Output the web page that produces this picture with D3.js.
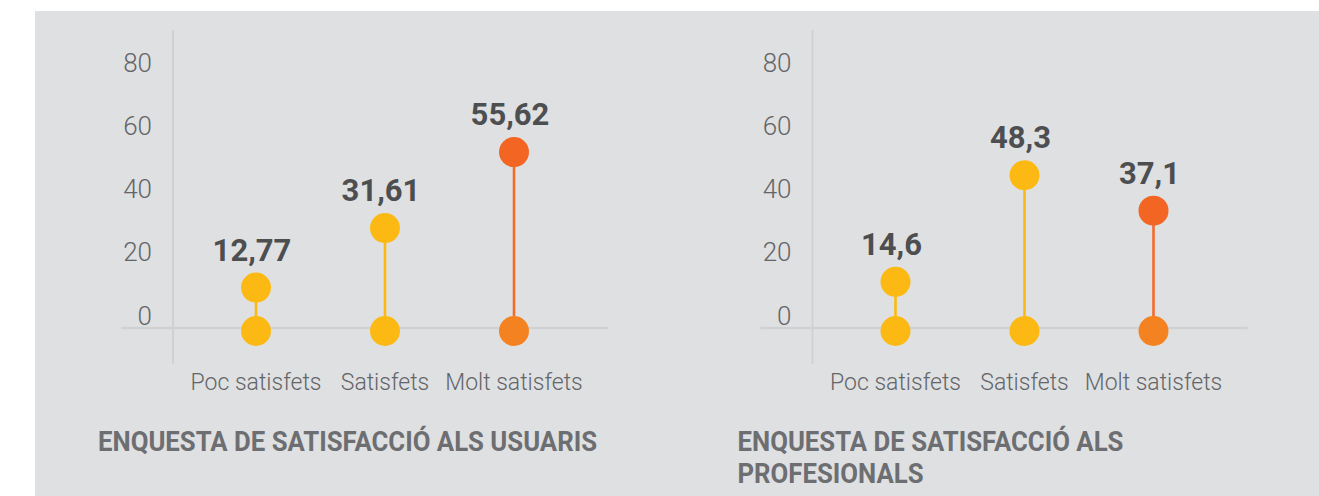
<!DOCTYPE html>
<html>
<head>
<meta charset="utf-8">
<script src="https://cdn.jsdelivr.net/npm/d3@7/dist/d3.min.js"></script>
<style>
  html, body { margin: 0; padding: 0; background: #ffffff; }
  svg { display: block; }
  text { font-family: Roboto, "Open Sans", sans-serif; }
</style>
</head>
<body>
<svg id="chart" width="1319" height="496"></svg>
<script>
// Survey categories and percentages
const categories = ["Poc satisfets", "Satisfets", "Molt satisfets"];
const usuarisValues = [12.77, 31.61, 55.62];
const profesionalsValues = [14.6, 48.3, 37.1];
const yTicks = [0, 20, 40, 60, 80];
const usuarisTitle = ["ENQUESTA DE SATISFACCIÓ ALS USUARIS"];
const profesionalsTitle = ["ENQUESTA DE SATISFACCIÓ ALS", "PROFESIONALS"];

// Colours per category: top dot / stem, bottom dot
const topColors = ["#FDB913", "#FDB913", "#F26522"];
const stemColors = ["#FDB913", "#FDB913", "#F26B2D"];
const baseColors = ["#FDB913", "#FDB913", "#F58220"];

const svg = d3.select("#chart");

// panel background
svg.append("rect")
  .attr("x", 35).attr("y", 11)
  .attr("width", 1319 - 35).attr("height", 496 - 11)
  .attr("fill", "#DFE0E2");

const y = d3.scaleLinear().domain([0, 80]).range([328, 75]);
const x = d3.scalePoint().domain(categories).range([83, 341]);

const fmt = v => String(v).replace(".", ",");

function drawChart(originX, values, titleLines) {
  const g = svg.append("g").attr("transform", `translate(${originX},0)`);

  // vertical axis line
  g.append("line")
    .attr("x1", 0).attr("x2", 0)
    .attr("y1", 30).attr("y2", 364)
    .attr("stroke", "#D0D1D3").attr("stroke-width", 2);

  // baseline
  g.append("line")
    .attr("x1", -52).attr("x2", 435)
    .attr("y1", y(0)).attr("y2", y(0))
    .attr("stroke", "#D0D1D3").attr("stroke-width", 2.5);

  // y tick labels, drawn just above each tick value
  const axis = d3.axisLeft(y).tickValues(yTicks).tickSize(0).tickPadding(21);
  const ag = g.append("g").call(axis);
  ag.select(".domain").remove();
  ag.selectAll(".tick text")
    .attr("dy", "0.35em")
    .attr("transform", "translate(0,-13)")
    .attr("fill", "#646568")
    .attr("font-family", "Roboto, sans-serif")
    .attr("font-weight", 300)
    .attr("font-size", 26);

  const items = categories.map((c, i) => ({ c, v: values[i], i }));

  // stems
  g.selectAll(".stem").data(items).join("line")
    .attr("class", "stem")
    .attr("x1", d => x(d.c)).attr("x2", d => x(d.c))
    .attr("y1", y(0) + 3).attr("y2", d => y(d.v))
    .attr("stroke", d => stemColors[d.i]).attr("stroke-width", 2.6);

  // base dots
  g.selectAll(".base").data(items).join("circle")
    .attr("class", "base")
    .attr("cx", d => x(d.c)).attr("cy", y(0) + 3)
    .attr("r", 15)
    .attr("fill", d => baseColors[d.i]);

  // value dots
  g.selectAll(".top").data(items).join("circle")
    .attr("class", "top")
    .attr("cx", d => x(d.c)).attr("cy", d => y(d.v))
    .attr("r", 15)
    .attr("fill", d => topColors[d.i]);

  // value labels
  g.selectAll(".val").data(items).join("text")
    .attr("class", "val")
    .attr("x", d => x(d.c) - 4).attr("y", d => y(d.v) - 27)
    .attr("text-anchor", "middle")
    .attr("font-weight", 700)
    .attr("font-size", 31)
    .attr("fill", "#4D4E50")
    .text(d => fmt(d.v));

  // category labels
  g.selectAll(".cat").data(items).join("text")
    .attr("class", "cat")
    .attr("x", d => x(d.c)).attr("y", 390)
    .attr("text-anchor", "middle")
    .attr("font-weight", 300)
    .attr("font-size", 23)
    .attr("fill", "#646568")
    .text(d => d.c);

  // title, slightly condensed
  const tg = g.append("g").attr("transform", "translate(-75,0) scale(0.92,1)");
  tg.selectAll(".title").data(titleLines).join("text")
    .attr("class", "title")
    .attr("x", 0).attr("y", (d, i) => 451 + i * 32)
    .attr("font-weight", 700)
    .attr("font-size", 28)
    .attr("fill", "#6D6E71")
    .text(d => d);
}

drawChart(173, usuarisValues, usuarisTitle);
drawChart(812.5, profesionalsValues, profesionalsTitle);
</script>
</body>
</html>
